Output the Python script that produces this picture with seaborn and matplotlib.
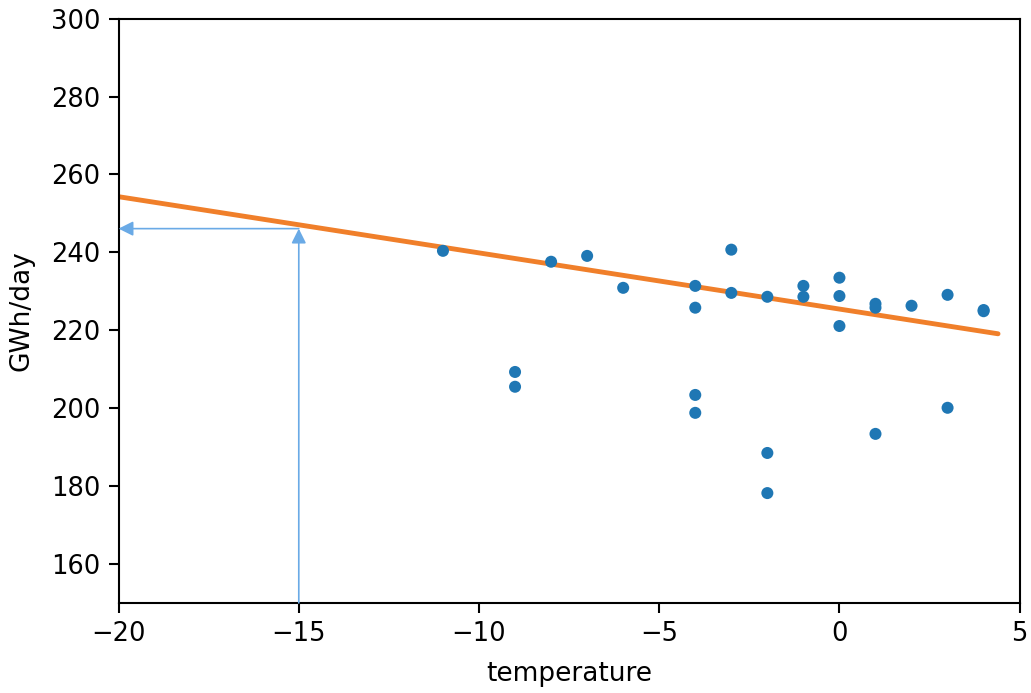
import numpy as np
import pandas as pd
import matplotlib
matplotlib.use("Agg")
import matplotlib.pyplot as plt
import seaborn as sns

# observed points
temperature = [-11, -9, -9, -8, -7, -6, -4, -4, -4, -4, -3, -3, -2, -2, -2,
               -1, -1, 0, 0, 0, 1, 1, 1, 2, 3, 3, 4, 4]
gwh_day = [240.4, 209.3, 205.5, 237.6, 239.1, 230.9, 231.4, 225.8, 203.4, 198.8,
           240.7, 229.6, 228.6, 188.5, 178.2, 231.4, 228.6, 233.5, 228.8, 221.1,
           226.8, 225.8, 193.4, 226.3, 229.1, 200.1, 225.2, 224.9]

# fitted line end points
fit_x = [-20, 4.4]
fit_y = [254.3, 219.1]

# forecast lookup
query_temp = -15
query_value = 246.1

df = pd.DataFrame({"temperature": temperature, "GWh/day": gwh_day})
fit = pd.DataFrame({"temperature": fit_x, "GWh/day": fit_y})

sns.set_style("ticks", rc={"axes.edgecolor": "black", "axes.labelcolor": "black",
                           "xtick.color": "black", "ytick.color": "black",
                           "text.color": "black"})
plt.rcParams["font.family"] = ["DejaVu Sans"]

fig, ax = plt.subplots(figsize=(10.31, 6.93), dpi=100)

sns.scatterplot(data=df, x="temperature", y="GWh/day", ax=ax,
                color="#1f77b4", s=75, edgecolor="none", zorder=3)
sns.lineplot(data=fit, x="temperature", y="GWh/day", ax=ax,
             color="#f07f2a", linewidth=3.5, zorder=2)

arrow_col = "#6aaae6"
ax.annotate("", xy=(query_temp, query_value), xytext=(query_temp, 150),
            arrowprops=dict(arrowstyle="-|>", color=arrow_col, lw=1.2,
                            mutation_scale=22, shrinkA=0, shrinkB=0))
ax.annotate("", xy=(-20, query_value), xytext=(query_temp, query_value),
            arrowprops=dict(arrowstyle="-|>", color=arrow_col, lw=1.2,
                            mutation_scale=22, shrinkA=0, shrinkB=0))

ax.set_xlim(-20, 5)
ax.set_ylim(150, 300)
ax.set_xticks([-20, -15, -10, -5, 0, 5])
ax.set_yticks([160, 180, 200, 220, 240, 260, 280, 300])
ax.tick_params(labelsize=18.5, width=1.5, length=7, pad=6)
for s in ax.spines.values():
    s.set_linewidth(1.5)
ax.set_xlabel("temperature", fontsize=19, labelpad=10)
ax.set_ylabel("GWh/day", fontsize=19, labelpad=12)

fig.subplots_adjust(left=0.115, right=0.989, top=0.973, bottom=0.13)
fig.savefig("out.png", dpi=100)
